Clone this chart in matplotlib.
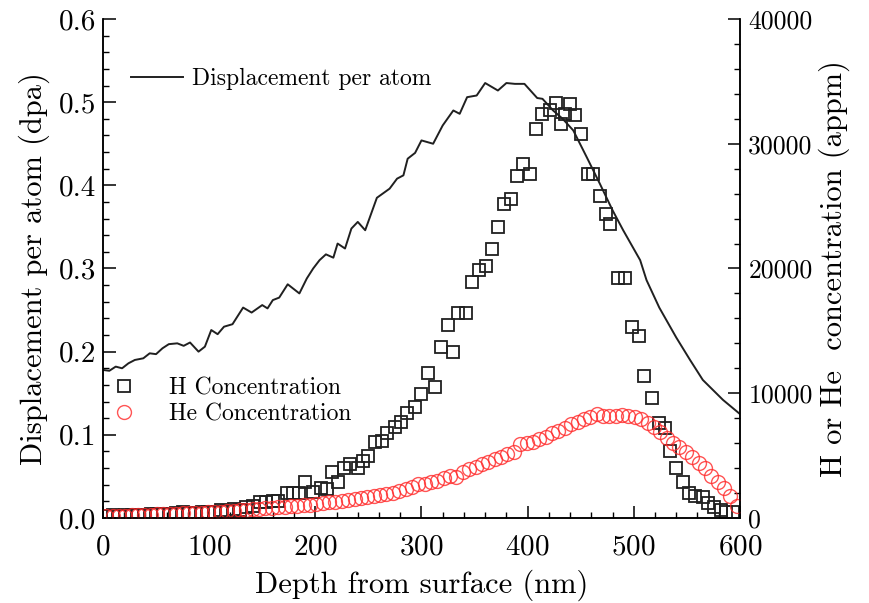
import matplotlib
matplotlib.use('Agg')
import matplotlib.pyplot as plt
from matplotlib.ticker import MultipleLocator, FormatStrFormatter

# displacement per atom (line)
dpa_depth = [0, 6, 12, 18, 24, 30, 38, 44, 50, 56, 62, 70, 76, 82, 90, 96, 102, 108, 114, 122,
             132, 140, 150, 155, 160, 166, 174, 185, 192, 198, 204, 210, 217, 221, 228, 234, 240, 247,
             258, 270, 277, 283, 287, 294, 300, 311, 320, 330, 336, 343, 352, 360, 372, 380, 388, 397,
             409, 414, 424, 433, 443, 456, 468, 480, 490, 506, 512, 524, 540, 553, 565, 584, 600]
dpa = [0.178, 0.177, 0.182, 0.180, 0.186, 0.190, 0.192, 0.198, 0.197, 0.204, 0.209, 0.210, 0.207,
       0.211, 0.200, 0.206, 0.226, 0.221, 0.230, 0.233, 0.253, 0.247, 0.256, 0.252, 0.262, 0.265,
       0.281, 0.270, 0.288, 0.300, 0.310, 0.317, 0.313, 0.330, 0.324, 0.348, 0.356, 0.346, 0.385,
       0.396, 0.408, 0.412, 0.432, 0.439, 0.454, 0.450, 0.472, 0.490, 0.486, 0.506, 0.508, 0.523,
       0.514, 0.523, 0.522, 0.522, 0.505, 0.504, 0.490, 0.480, 0.466, 0.433, 0.402, 0.370, 0.346,
       0.310, 0.286, 0.253, 0.217, 0.190, 0.166, 0.142, 0.125]

# H concentration (appm)
h_depth = [3, 9, 15, 21, 27, 33, 39, 45, 51, 57, 63, 69, 75, 81, 87, 93, 99, 105, 111, 117,
           123, 129, 135, 141, 148, 154, 160, 165, 173, 179, 185, 190, 198, 205, 211, 216, 221, 227,
           233, 240, 245, 250, 256, 263, 268, 275, 281, 286, 294, 300, 306, 313, 318, 325, 330, 334,
           342, 348, 354, 361, 366, 372, 378, 384, 390, 396, 402, 408, 414, 421, 427, 431, 435, 440,
           445, 450, 457, 462, 468, 474, 478, 485, 492, 498, 505, 510, 517, 524, 529, 534, 540, 546,
           552, 558, 565, 570, 576, 582, 587, 593]
h_conc = [150, 200, 150, 200, 250, 200, 250, 300, 300, 350, 300, 400, 450, 400, 400, 500, 450, 500,
          600, 550, 700, 650, 900, 1000, 1300, 1300, 1400, 1400, 2000, 2000, 2000, 2900, 2100, 2400,
          2300, 3700, 2900, 4000, 4300, 4000, 4600, 5000, 6100, 6200, 6800, 7300, 7700, 8400, 8900,
          9900, 11600, 10500, 13700, 15500, 13300, 16400, 16400, 18900, 19900, 20200, 21600, 23300,
          25200, 25600, 27400, 28400, 27600, 31200, 32400, 32700, 33300, 31600, 32400, 33200, 32300,
          30800, 27600, 27600, 25800, 24400, 23600, 19200, 19200, 15300, 14600, 11400, 9600, 7600,
          7200, 5400, 4000, 2900, 2000, 1800, 1700, 1200, 900, 640, 500, 500]

# He concentration (appm)
he_depth = [3, 9, 15, 21, 27, 33, 39, 45, 51, 57, 63, 69, 75, 81, 87, 93, 99, 105, 111, 117,
            123, 129, 135, 141, 147, 153, 159, 165, 171, 177, 183, 189, 195, 201, 207, 213, 219, 225,
            231, 237, 243, 249, 255, 261, 267, 273, 279, 285, 291, 297, 303, 309, 315, 321, 327, 333,
            339, 345, 351, 357, 363, 369, 375, 381, 387, 393, 399, 405, 411, 417, 423, 429, 435, 441,
            447, 453, 459, 465, 471, 477, 483, 489, 495, 501, 507, 513, 519, 525, 531, 537, 543, 549,
            555, 561, 567, 573, 579, 585, 591, 597]
he_conc = [150, 160, 170, 190, 200, 220, 240, 260, 280, 300, 320, 340, 360, 380, 400, 420, 440, 460,
           490, 520, 560, 600, 640, 680, 720, 760, 800, 850, 900, 950, 1000, 1040, 1080, 1120, 1180,
           1250, 1300, 1400, 1450, 1500, 1600, 1700, 1800, 1850, 1900, 2000, 2150, 2350, 2500, 2700,
           2700, 2900, 3000, 3200, 3400, 3300, 3700, 3900, 4100, 4300, 4500, 4700, 4900, 5100, 5300,
           5900, 6000, 6100, 6300, 6500, 6800, 7000, 7200, 7500, 7700, 7900, 8100, 8300, 8200, 8150,
           8200, 8250, 8200, 8100, 7900, 7600, 7300, 6900, 6400, 6000, 5700, 5300, 4900, 4400, 4000,
           3400, 2900, 2400, 1800, 1000]

plt.rcParams['font.family'] = ['cmr10', 'DejaVu Serif']
plt.rcParams['axes.formatter.use_mathtext'] = True

fig = plt.figure(figsize=(8.69, 6.03), dpi=100)
ax = fig.add_axes([0.1185, 0.141, 0.733, 0.8275])
ax2 = ax.twinx()

ln, = ax.plot(dpa_depth, dpa, color='#202020', lw=1.4, label='Displacement per atom')
sq, = ax2.plot(h_depth, h_conc, 's', mfc='none', mec='#202020', mew=1.3, ms=8.6,
               label='H Concentration')
ci, = ax2.plot(he_depth, he_conc, 'o', mfc='none', mec='#ff2a2a', mew=1.0, ms=10, alpha=0.8,
               label='He Concentration')

ax.set_xlim(0, 600)
ax.set_ylim(0, 0.6)
ax2.set_ylim(0, 40000)

ax.xaxis.set_major_locator(MultipleLocator(100))
ax.xaxis.set_minor_locator(MultipleLocator(20))
ax.yaxis.set_major_locator(MultipleLocator(0.1))
ax.yaxis.set_minor_locator(MultipleLocator(0.02))
ax.yaxis.set_major_formatter(FormatStrFormatter('%.1f'))
ax2.yaxis.set_major_locator(MultipleLocator(10000))
ax2.yaxis.set_minor_locator(MultipleLocator(2000))
ax2.yaxis.set_major_formatter(FormatStrFormatter('%d'))

for a in (ax, ax2):
    a.spines['top'].set_visible(False)
    for s in a.spines.values():
        s.set_linewidth(1.1)
    a.tick_params(which='major', direction='in', length=9, width=1.1, labelsize=21)
    a.tick_params(which='minor', direction='in', length=4.5, width=1.0)
ax.tick_params(axis='y', which='both', right=False)
ax.tick_params(axis='x', which='both', top=False, pad=12)
ax2.tick_params(axis='y', which='both', left=False, pad=6, labelsize=18.5)
ax.tick_params(axis='y', pad=5)

ax.set_xlabel('Depth from surface (nm)', fontsize=22, labelpad=6)
ax.set_ylabel('Displacement per atom (dpa)', fontsize=22, labelpad=6)
ax2.set_ylabel('H or He  concentration (appm)', fontsize=22, labelpad=4)

ax.legend(handles=[ln], loc='upper left', bbox_to_anchor=(0.01, 0.945), frameon=False,
          fontsize=17, handlelength=2.2, handletextpad=0.4)
ax2.legend(handles=[sq, ci], loc='upper left', bbox_to_anchor=(-0.03, 0.315), frameon=False,
           fontsize=17, handletextpad=0.9, labelspacing=0.15, borderaxespad=0.3)

fig.savefig('out.png', dpi=100)
